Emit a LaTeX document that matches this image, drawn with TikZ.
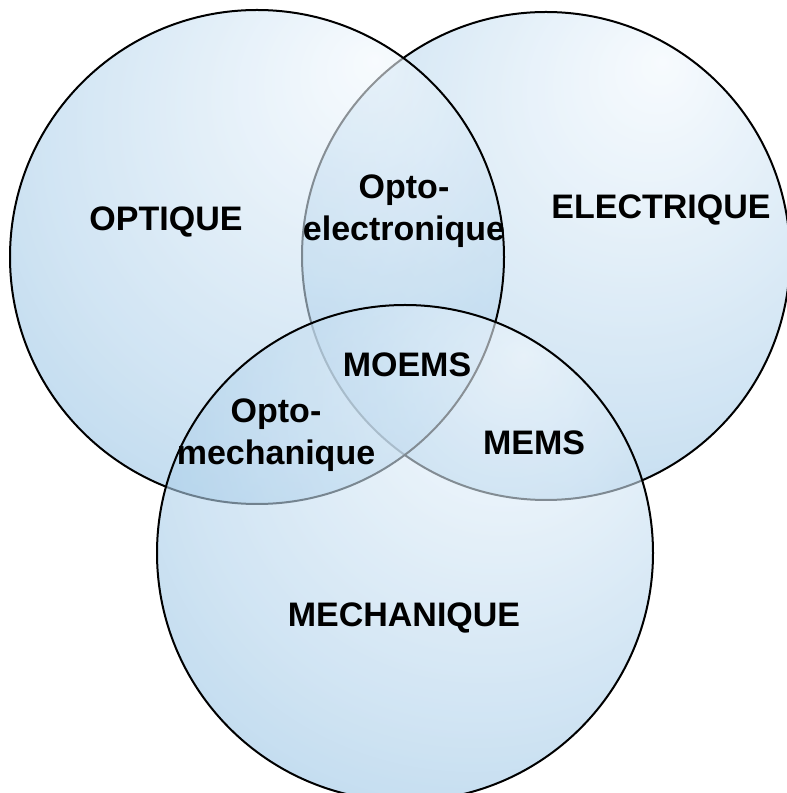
\documentclass[tikz,border=0pt]{standalone}
\usepackage{fontspec}
\setsansfont{Liberation Sans}

\definecolor{bulleclair}{RGB}{242,248,253}
\definecolor{bullefonce}{RGB}{122,178,220}
% light spot towards the upper right of each set
\pgfdeclareradialshading{bulle}{\pgfpoint{12bp}{20bp}}{%
  color(0bp)=(bulleclair); color(30bp)=(bullefonce!55!bulleclair);
  color(50bp)=(bullefonce); color(75bp)=(bullefonce)}

\begin{document}
\begin{tikzpicture}[x=1pt, y=1pt,
  % Set styles
  ensemble/.style={circle, draw=black, line width=2pt, shading=bulle,
    fill opacity=0.6, minimum size=#1, inner sep=0pt},
  % Label style
  etiquette/.style={font=\fontsize{34}{42}\selectfont\sffamily\bfseries,
    align=center, text=black},
]

\useasboundingbox (0,0) rectangle (787,793);

% Sets (drawn right, left, bottom)
\node[ensemble=488pt] (electrique) at (546,537) {};
\node[ensemble=494pt] (optique) at (257,536) {};
\node[ensemble=496pt] (mechanique) at (405,240) {};

% --- Single sets ---
\node[etiquette] (lopt) at (166,571) {OPTIQUE};
\node[etiquette] (lelec) at (661,583) {ELECTRIQUE};
\node[etiquette] (lmech) at (404,175) {MECHANIQUE};

% --- Overlaps ---
\node[etiquette] (loptelec) at (404,582) {Opto-\\electronique};
\node[etiquette] (loptmech) at (276,358) {Opto-\\mechanique};
\node[etiquette] (lmems) at (534,350) {MEMS};
\node[etiquette] (lmoems) at (407,428) {MOEMS};

\end{tikzpicture}
\end{document}
